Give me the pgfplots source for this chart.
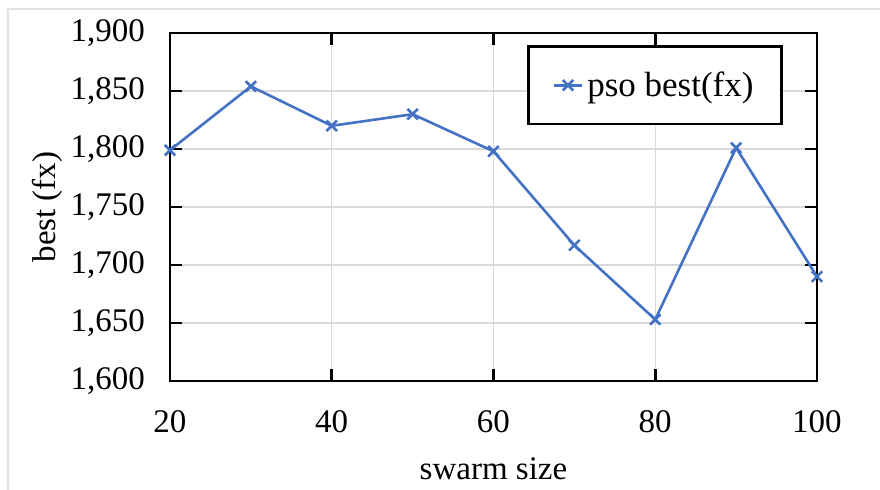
\documentclass[border=0pt]{standalone}
\usepackage{fontspec}
\setmainfont{Liberation Serif}
\usepackage{pgfplots}
\pgfplotsset{compat=1.18}
\definecolor{xlblue}{RGB}{68,114,196}
\definecolor{gridgray}{RGB}{217,217,217}
\definecolor{framegray}{RGB}{225,225,225}
\begin{document}
\begin{tikzpicture}
\useasboundingbox (0,0) rectangle (440pt,244.5pt);
\draw[framegray, line width=0.8pt] (4pt,-5pt) -- (4pt,240pt) -- (450pt,240pt);
\begin{axis}[
  at={(85pt,54pt)}, anchor=south west,
  scale only axis, width=323.5pt, height=174pt,
  xmin=20, xmax=100, ymin=1600, ymax=1900,
  xtick={20,40,60,80,100},
  ytick={1600,1650,1700,1750,1800,1850,1900},
  /pgf/number format/assume math mode=true,
  /pgf/number format/1000 sep={,},
  scaled y ticks=false,
  tick align=inside,
  major tick length=6pt,
  tick style={black, line width=1.3pt},
  axis line style={black, line width=1.4pt},
  grid=major,
  major grid style={gridgray, line width=0.6pt},
  ticklabel style={font=\fontsize{16.5}{18}\selectfont},
  xticklabel style={yshift=-11pt},
  yticklabel style={xshift=-9pt},
  xlabel={swarm size},
  ylabel={best (fx)},
  label style={font=\fontsize{16.5}{18}\selectfont},
  xlabel style={yshift=-6pt},
  ylabel style={yshift=-3pt},
  legend style={at={(0.9474,0.9655)}, anchor=north east,
    draw=black, line width=1.4pt,
    font=\fontsize{17.5}{19}\selectfont, inner xsep=12pt, inner ysep=10.5pt},
  legend cell align=left,
  legend image code/.code={%
    \draw[#1, mark repeat=2, mark phase=2] plot coordinates {(0pt,0pt) (7pt,0pt) (14pt,0pt)};},
]
\addplot[color=xlblue, line width=1.3pt, mark=x, mark size=3.7pt, mark options={line width=1.3pt}]
coordinates {(20,1799) (30,1854) (40,1820) (50,1830) (60,1798) (70,1717) (80,1653) (90,1801) (100,1690)};
\addlegendentry{pso best(fx)}
\end{axis}
\end{tikzpicture}
\end{document}
